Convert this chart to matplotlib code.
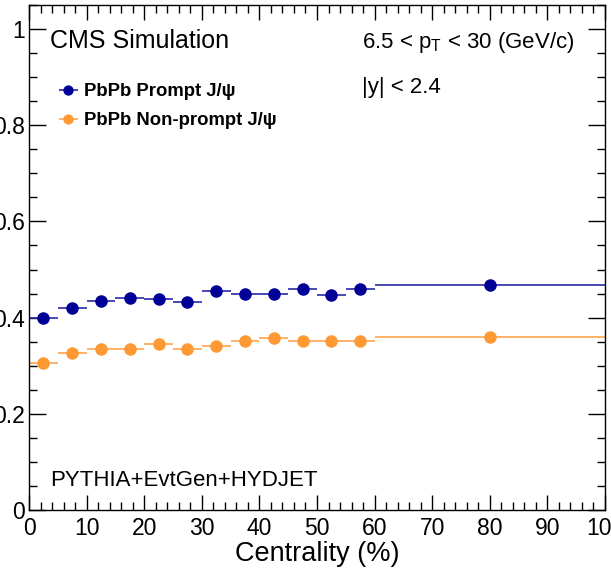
import matplotlib
matplotlib.use("Agg")
import matplotlib.pyplot as plt
from matplotlib.ticker import MultipleLocator, FuncFormatter

plt.rcParams['font.family'] = ['Liberation Sans', 'DejaVu Sans']
plt.rcParams['mathtext.fontset'] = 'custom'
plt.rcParams['mathtext.rm'] = 'Liberation Sans'
plt.rcParams['mathtext.it'] = 'Liberation Sans:italic'
plt.rcParams['mathtext.bf'] = 'Liberation Sans:bold'

# ---- data ----
bin_low = [0, 5, 10, 15, 20, 25, 30, 35, 40, 45, 50, 55, 60]
bin_high = [5, 10, 15, 20, 25, 30, 35, 40, 45, 50, 55, 60, 100]
prompt = [0.400, 0.421, 0.435, 0.441, 0.439, 0.433, 0.455, 0.449, 0.449, 0.460, 0.446, 0.460, 0.468]
nonprompt = [0.306, 0.327, 0.334, 0.334, 0.345, 0.334, 0.341, 0.352, 0.358, 0.352, 0.352, 0.352, 0.360]
label_prompt = "PbPb Prompt J/\u03c8"
label_nonprompt = "PbPb Non-prompt J/\u03c8"

centers = [(a + b) / 2 for a, b in zip(bin_low, bin_high)]
halfw = [(b - a) / 2 for a, b in zip(bin_low, bin_high)]

W, H = 611, 576
fig = plt.figure(figsize=(W / 100, H / 100), dpi=100)
ax = fig.add_axes([29 / W, 1 - 510 / H, 576 / W, 505 / H])

blue_m = '#000096'
blue_l = '#2a2aa8'
orange_m = '#ff9933'
orange_l = '#ffa64d'

ax.errorbar(centers, prompt, xerr=halfw, fmt='o', color=blue_l, mfc=blue_m, mec=blue_m,
            ms=8, elinewidth=1.2, capsize=0, label=label_prompt)
ax.errorbar(centers, nonprompt, xerr=halfw, fmt='o', color=orange_l, mfc=orange_m, mec=orange_m,
            ms=8, elinewidth=1.2, capsize=0, label=label_nonprompt)

ax.set_xlim(0, 100)
ax.set_ylim(0, 1.05)
ax.xaxis.set_major_locator(MultipleLocator(10))
ax.xaxis.set_minor_locator(MultipleLocator(2))
ax.yaxis.set_major_locator(MultipleLocator(0.2))
ax.yaxis.set_minor_locator(MultipleLocator(0.05))
ax.yaxis.set_major_formatter(FuncFormatter(lambda v, p: f"{v:g}"))
ax.xaxis.set_major_formatter(FuncFormatter(lambda v, p: f"{v:g}"))

ax.tick_params(axis='both', which='both', direction='in', top=True, right=True,
               width=1, labelsize=16.5, colors='black')
ax.tick_params(axis='y', which='major', length=12, pad=3)
ax.tick_params(axis='y', which='minor', length=6)
ax.tick_params(axis='x', which='major', length=11, pad=5)
ax.tick_params(axis='x', which='minor', length=5.5)
for s in ax.spines.values():
    s.set_linewidth(1)

ax.set_xlabel("Centrality (%)", fontsize=19.5)
ax.xaxis.set_label_coords(0.5, -0.061)

def px(x, y):
    return x / W, 1 - y / H

fig.text(*px(50, 48), "CMS Simulation", fontsize=18, va='baseline', ha='left')
fig.text(*px(362, 48), r"6.5 < p$_{\mathrm{T}}$ < 30 (GeV/c)", fontsize=16, va='baseline', ha='left')
fig.text(*px(362, 93), "|y| < 2.4", fontsize=16, va='baseline', ha='left')
fig.text(*px(50, 486), "PYTHIA+EvtGen+HYDJET", fontsize=16, va='baseline', ha='left')

leg = ax.legend(loc='upper left', bbox_to_anchor=px(55, 83), bbox_transform=fig.transFigure,
                frameon=False, borderpad=0, borderaxespad=0, handlelength=1.46,
                handletextpad=0.12, labelspacing=0.65, markerscale=0.8,
                prop={'size': 13.3, 'weight': 'bold'})

fig.savefig("out.png", dpi=100)
